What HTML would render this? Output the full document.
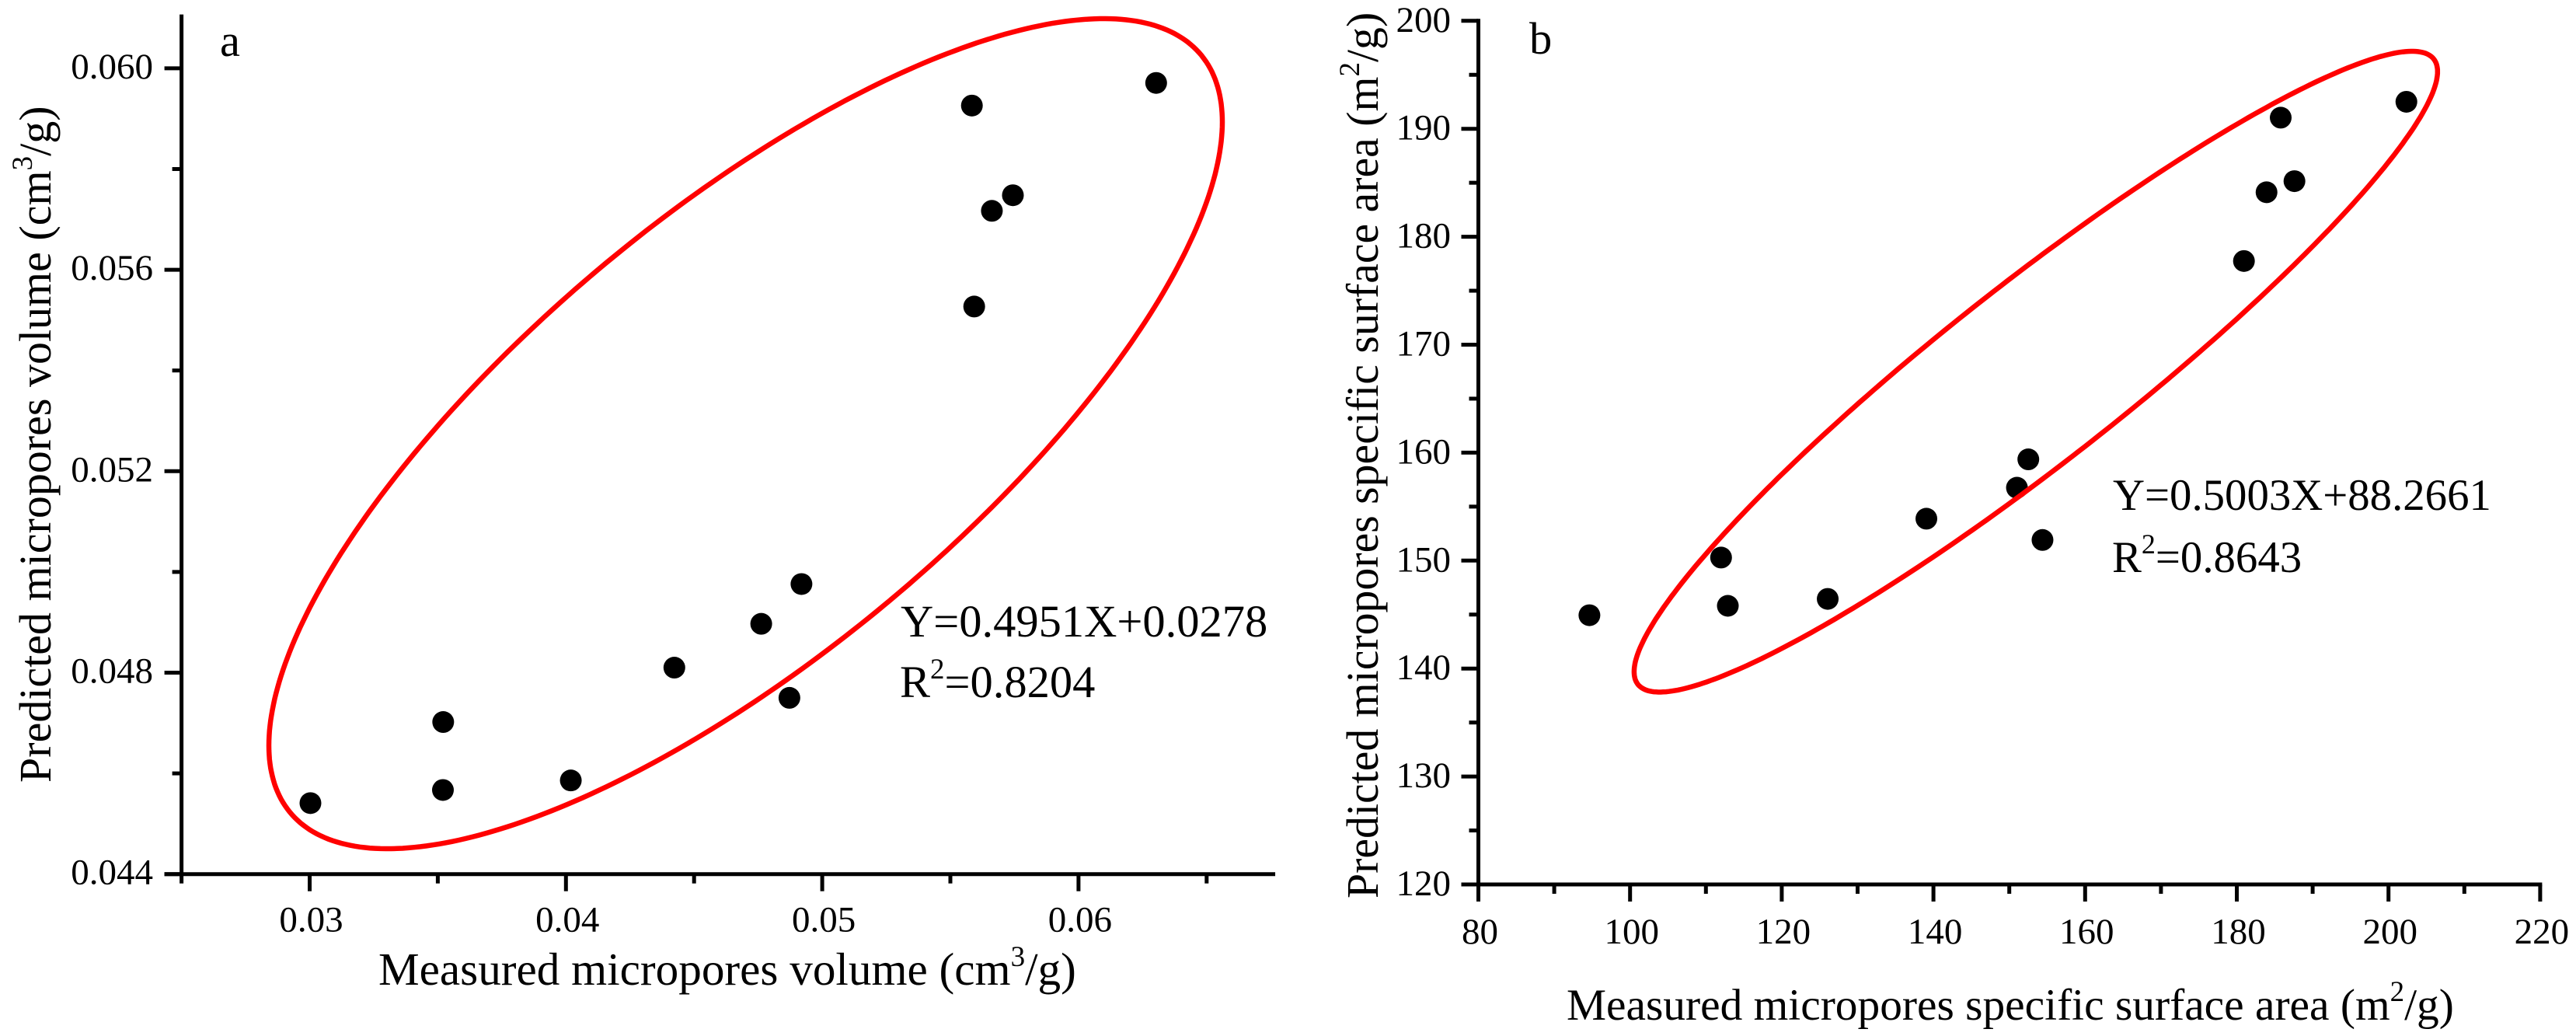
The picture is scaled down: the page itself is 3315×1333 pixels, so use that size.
<!DOCTYPE html>
<html lang="en">
<head>
<meta charset="utf-8">
<title>Measured vs predicted micropores</title>
<style>
html,body{margin:0;padding:0;background:#fff;width:3315px;height:1333px;overflow:hidden}
svg{display:block}
text{font-family:"Liberation Serif","Times New Roman",serif;fill:#000}
.title,.note{font-size:58.5px}
.tick{font-size:47px}
</style>
</head>
<body>
<svg id="chart" xmlns="http://www.w3.org/2000/svg" width="3315" height="1333" viewBox="0 0 3315 1333">
<rect width="3315" height="1333" fill="#fff"/>
<g id="panel-a">
<text class="note" x="283" y="72">a</text>
<text class="title" x="487" y="1267" style="font-size:59.2px">Measured micropores volume (cm<tspan font-size="37" dy="-24">3</tspan><tspan dy="24">/g)</tspan></text>
<text class="title" transform="translate(65 1007) rotate(-90)" style="font-size:58px">Predicted micropores volume (cm<tspan font-size="37" dy="-24">3</tspan><tspan dy="24">/g)</tspan></text>
<text class="note" x="1159" y="819">Y=0.4951X+0.0278</text>
<text class="note" x="1158" y="897">R<tspan font-size="37" dy="-24">2</tspan><tspan dy="24">=0.8204</tspan></text>
</g>
<g id="panel-b">
<text class="note" x="1968" y="69">b</text>
<text class="title" x="2016" y="1312" style="font-size:57.4px">Measured micropores specific surface area (m<tspan font-size="37" dy="-24">2</tspan><tspan dy="24">/g)</tspan></text>
<text class="title" transform="translate(1773 1156) rotate(-90)" style="font-size:57.8px">Predicted micropores specific surface area (m<tspan font-size="37" dy="-24">2</tspan><tspan dy="24">/g)</tspan></text>
<text class="note" x="2719" y="656" style="font-size:56.8px">Y=0.5003X+88.2661</text>
<text class="note" x="2718" y="736" style="font-size:56.8px">R<tspan font-size="36" dy="-24">2</tspan><tspan dy="24">=0.8643</tspan></text>
</g>
</svg>
<script>
// Panel a data
const aMeasured = [0.03003,0.03521,0.0352,0.04019,0.04423,0.04762,0.04919,0.04872,0.05593,0.05662,0.05744,0.05584,0.06303];
const aPredicted = [0.04541,0.04702,0.04567,0.04586,0.0481,0.04897,0.04976,0.0475,0.05527,0.05717,0.05748,0.05926,0.05971];
const aXMajor = [0.03,0.04,0.05,0.06];
const aXLabels = ["0.03","0.04","0.05","0.06"];
const aXMinor = [0.025,0.035,0.045,0.055,0.065];
const aYMajor = [0.044,0.048,0.052,0.056,0.06];
const aYLabels = ["0.044","0.048","0.052","0.056","0.060"];
const aYMinor = [0.046,0.05,0.054,0.058];
const aEllipseCenter = [0.04701,0.052745];
const aEllipseSpread = [0.018602,0.008241];
const aEllipseCorrelation = [0.7512];
// Panel b data
const bMeasured = [94.64,112.0,112.89,126.06,139.07,152.51,151.01,154.38,180.94,183.92,187.6,185.79,202.36];
const bPredicted = [144.94,150.28,145.81,146.45,153.88,159.38,156.75,151.91,177.75,184.12,185.15,191.03,192.5];
const bXMajor = [80,100,120,140,160,180,200,220];
const bXLabels = ["80","100","120","140","160","180","200","220"];
const bXMinor = [90,110,130,150,170,190,210];
const bYMajor = [120,130,140,150,160,170,180,190,200];
const bYLabels = ["120","130","140","150","160","170","180","190","200"];
const bYMinor = [125,135,145,155,165,175,185,195];
const bEllipseCenter = [153.5,167.5];
const bEllipseSpread = [52.97,29.68];
const bEllipseCorrelation = [0.9365];

const NS = "http://www.w3.org/2000/svg";
function mk(parent, tag, attrs, text){
  const el = document.createElementNS(NS, tag);
  for (const k in attrs) el.setAttribute(k, attrs[k]);
  if (text !== undefined) el.textContent = text;
  parent.appendChild(el);
  return el;
}
function drawPanel(p){
  const g = document.getElementById(p.id);
  const sx = v => p.x0 + (v - p.xv0) * p.xk;
  const sy = v => p.y0 - (v - p.yv0) * p.yk;
  const W = 5;
  const axisX = sx(p.xMin), axisY = sy(p.yMin);

  const yAxis = mk(g, "line", {x1:axisX, x2:axisX, y1:axisY+2.5, y2:sy(p.yMax)-2.5, stroke:"#000", "stroke-width":W});
  
  
  const xAxis = mk(g, "line", {x1:axisX-22, x2:sx(p.xMax)+2.5, y1:axisY, y2:axisY, stroke:"#000", "stroke-width":W});
  
  

  p.xMajor.forEach((v, i) => {
    const t = mk(g, "line", {x1:sx(v), x2:sx(v), y1:axisY, y2:axisY+22, stroke:"#000", "stroke-width":W});
    
    
    const l = mk(g, "text", {class:"tick", x:sx(v)+2, y:p.xLabelY, "text-anchor":"middle"}, p.xLabels[i]);
    
    
  });
  p.xMinor.forEach(v => {
    const t = mk(g, "line", {x1:sx(v), x2:sx(v), y1:axisY, y2:axisY+12, stroke:"#000", "stroke-width":W});
    
    
  });
  p.yMajor.forEach((v, i) => {
    const t = mk(g, "line", {x1:axisX-22, x2:axisX, y1:sy(v), y2:sy(v), stroke:"#000", "stroke-width":W});
    
    
    const l = mk(g, "text", {class:"tick", x:p.yLabelX, y:sy(v)+p.yLabelDy, "text-anchor":"end"}, p.yLabels[i]);
    
    
  });
  p.yMinor.forEach(v => {
    const t = mk(g, "line", {x1:axisX-12, x2:axisX, y1:sy(v), y2:sy(v), stroke:"#000", "stroke-width":W});
    
    
  });

  p.xs.forEach((v, i) => {
    const c = mk(g, "circle", {cx:sx(v), cy:sy(p.ys[i]), r:14, fill:"#000"});
    
    
  });

  let d = "";
  const rho = p.ellipseRho[0];
  const q = Math.sqrt(1 - rho * rho);
  for (let i = 0; i < 360; i++){
    const t = i * Math.PI / 180;
    const vx = p.ellipseCenter[0] + p.ellipseSpread[0] * Math.cos(t);
    const vy = p.ellipseCenter[1] + p.ellipseSpread[1] * (rho * Math.cos(t) + q * Math.sin(t));
    d += (i ? "L" : "M") + sx(vx).toFixed(1) + " " + sy(vy).toFixed(1);
  }
  const e = mk(g, "path", {d:d + "Z", fill:"none", stroke:"#ff0000", "stroke-width":6.5});
  
  
}
drawPanel({
  id:"panel-a", x0:398.5, xv0:0.03, xk:32980, y0:1124.7, yv0:0.044, yk:64800,
  xMin:0.025, xMax:0.0676, yMin:0.044, yMax:0.06103,
  xMajor:aXMajor, xLabels:aXLabels, xMinor:aXMinor,
  yMajor:aYMajor, yLabels:aYLabels, yMinor:aYMinor,
  xLabelY:1198.5, yLabelX:197, yLabelDy:13,
  xs:aMeasured, ys:aPredicted,
  ellipseCenter:aEllipseCenter, ellipseSpread:aEllipseSpread, ellipseRho:aEllipseCorrelation
});
drawPanel({
  id:"panel-b", x0:1902.5, xv0:80, xk:9.76, y0:1138, yv0:120, yk:13.89,
  xMin:80, xMax:220, yMin:120, yMax:200,
  xMajor:bXMajor, xLabels:bXLabels, xMinor:bXMinor,
  yMajor:bYMajor, yLabels:bYLabels, yMinor:bYMinor,
  xLabelY:1214, yLabelX:1867, yLabelDy:14,
  xs:bMeasured, ys:bPredicted,
  ellipseCenter:bEllipseCenter, ellipseSpread:bEllipseSpread, ellipseRho:bEllipseCorrelation
});
</script>
</body>
</html>
